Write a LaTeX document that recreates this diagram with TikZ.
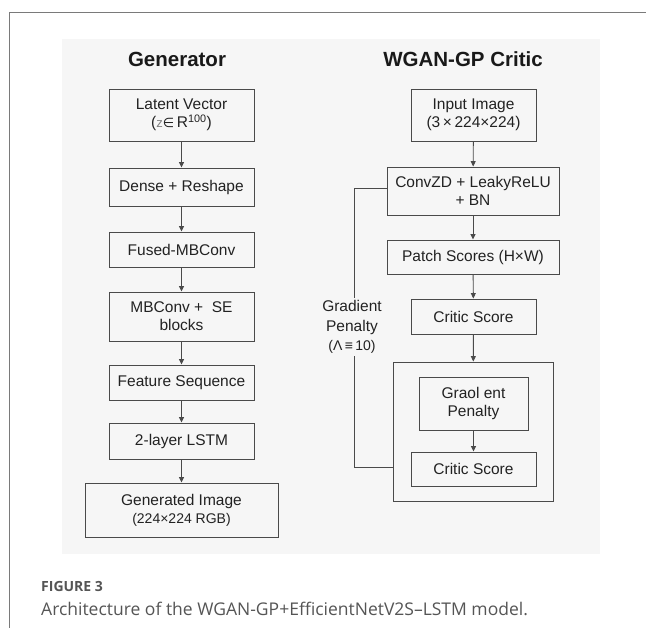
\documentclass[tikz,border=0pt]{standalone}
\usepackage{fontspec}
\setmainfont{Liberation Sans}
\newfontfamily\capfont{Open Sans}
\newfontfamily\symfont{DejaVu Sans}
\usetikzlibrary{arrows.meta,calc}
\definecolor{panel}{HTML}{F6F6F6}
\definecolor{frameline}{HTML}{7A7A7A}
\definecolor{boxline}{HTML}{4A4A4A}
\definecolor{txt}{HTML}{222222}
\definecolor{captxt}{HTML}{555555}
\begin{document}
\begin{tikzpicture}[x=1pt,y=-1pt,
  blk/.style={draw=boxline,line width=0.9pt,fill=panel,text=txt,align=center,inner sep=0pt,
    font=\fontsize{15.5}{18}\selectfont},
  flow/.style={draw=boxline,line width=0.9pt,-{Triangle[length=5.5pt,width=5pt]}},
  ttl/.style={text=black!90,font=\fontsize{20.5}{24}\selectfont\bfseries}]
\useasboundingbox (0,0) rectangle (646,628);
\fill[white] (0,0) rectangle (646,628);
% frame
\draw[frameline,line width=1pt] (9,628) -- (9,13) -- (646,13);
% panel
\fill[panel] (62,39) rectangle (600,554);
% titles
\node[ttl] (tgen) at (177,59) {Generator};
\node[ttl] (tcrit) at (463,59) {WGAN-GP Critic};
% generator
\node[blk,minimum width=145pt,minimum height=52pt] (lat) at (181.5,115)
  {Latent Vector\\({\color{gray}\fontsize{13}{18}\selectfont z}{\symfont\fontsize{13}{18}\selectfont ∈}\,R\textsuperscript{100})};
\node[blk,minimum width=145pt,minimum height=38pt] (dense) at (181.5,187) {Dense + Reshape};
\node[blk,minimum width=145pt,minimum height=35pt] (fused) at (181.5,249.5) {Fused-MBConv};
\node[blk,minimum width=145pt,minimum height=49pt] (mb) at (181.5,316.5) {MBConv +\ \ SE\\blocks};
\node[blk,minimum width=145pt,minimum height=35pt] (feat) at (181.5,382.5) {Feature Sequence};
\node[blk,minimum width=145pt,minimum height=36pt] (lstm) at (181.5,441) {2-layer LSTM};
\node[blk,minimum width=193pt,minimum height=54pt] (gen) at (181.5,510)
  {Generated Image\\{\fontsize{14}{18}\selectfont(224×224 RGB)}};
\draw[flow] (lat) -- (dense);
\draw[flow] (dense) -- (fused);
\draw[flow] (fused) -- (mb);
\draw[flow] (mb) -- (feat);
\draw[flow] (feat) -- (lstm);
\draw[flow] (lstm) -- (gen);
% critic
\node[blk,minimum width=125pt,minimum height=52pt] (inp) at (473.5,115)
  {Input Image\\(3\,×\,224×224)};
\node[blk,minimum width=172pt,minimum height=48pt] (conv) at (473,191)
  {ConvZD + LeakyReLU\\+ BN};
\node[blk,minimum width=172pt,minimum height=34pt] (patch) at (473,257) {Patch Scores (H×W)};
\node[blk,minimum width=125pt,minimum height=35pt] (cs1) at (473.5,316.5) {Critic Score};
\node[blk,minimum width=160pt,minimum height=139pt] (outer) at (473,431.5) {};
\node[blk,minimum width=109pt,minimum height=53pt] (gp) at (473.5,403.5) {Graol ent\\Penalty};
\node[blk,minimum width=125pt,minimum height=34pt] (cs2) at (473.5,469) {Critic Score};
\draw[flow] (inp) -- (conv);
\draw[flow] (conv) -- (patch);
\draw[flow] (patch) -- (cs1);
\draw[flow] (cs1) -- (outer);
\draw[flow] (gp) -- (cs2);
% feedback loop
\coordinate (fbtop) at (354,188);
\coordinate (fbbot) at (354,467);
\draw[boxline,line width=0.9pt] (conv.west|-fbtop) -- (fbtop) -- (fbbot) -- (outer.west|-fbbot);
\node[fill=panel,text=txt,align=center,inner sep=2pt,font=\fontsize{15.5}{19.5}\selectfont] (gplab) at (352,327)
  {Gradient\\Penalty\\{\fontsize{14}{19.5}\selectfont(Λ\,≡\,10)}};
% caption
\node[anchor=base west,inner sep=0pt,text=captxt,font=\capfont\fontsize{14}{16}\selectfont\bfseries] (fig) at (41,591) {FIGURE 3};
\node[anchor=base west,inner sep=0pt,text=captxt,font=\capfont\fontsize{17.5}{20}\selectfont] (cap) at (41,615)
  {Architecture of the WGAN-GP+EfficientNetV2S–LSTM model.};
\end{tikzpicture}
\end{document}
